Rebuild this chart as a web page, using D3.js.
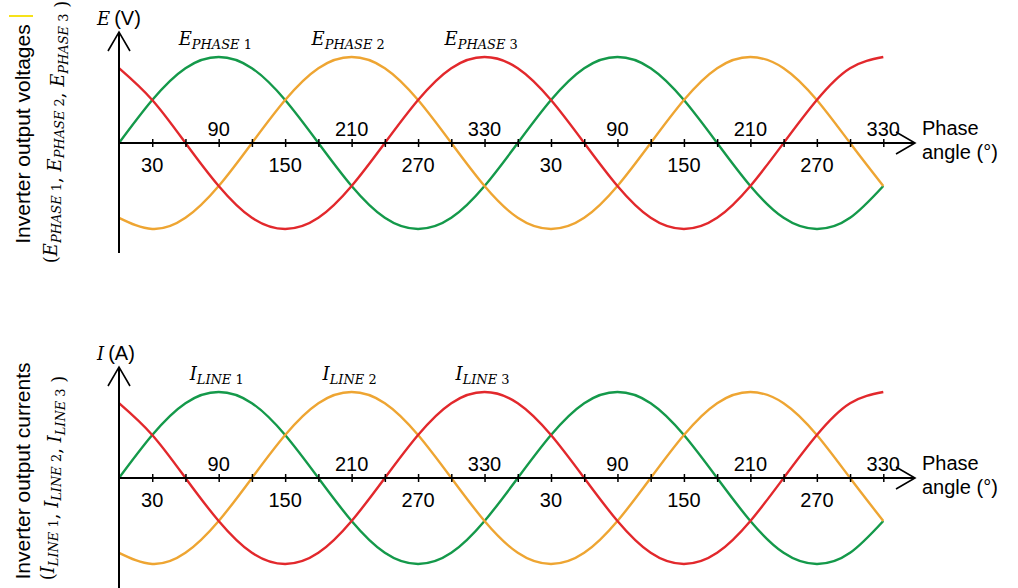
<!DOCTYPE html>
<html>
<head>
<meta charset="utf-8">
<script src="https://cdn.jsdelivr.net/npm/d3@7"></script>
<style>
body { margin: 0; background: #fff; }
svg { display: block; }
</style>
</head>
<body>
<div class="chart"></div>
<script>
// phase angle grid (degrees), read every 30°
const angles = [0, 30, 60, 90, 120, 150, 180, 210, 240, 270, 300, 330,
                360, 390, 420, 450, 480, 510, 540, 570, 600, 630, 660, 690];
const tickAngles = angles.slice(1);
const labelAngles = [30, 90, 150, 210, 270, 330, 390, 450, 510, 570, 630, 690];
const tickLabels = ["30", "90", "150", "210", "270", "330", "30", "90", "150", "210", "270", "330"];

// normalised amplitudes
const wave1 = [0, 0.5, 0.87, 1, 0.87, 0.5, 0, -0.5, -0.87, -1, -0.87, -0.5,
               0, 0.5, 0.87, 1, 0.87, 0.5, 0, -0.5, -0.87, -1, -0.87, -0.5];
const wave2 = [-0.87, -1, -0.87, -0.5, 0, 0.5, 0.87, 1, 0.87, 0.5, 0, -0.5,
               -0.87, -1, -0.87, -0.5, 0, 0.5, 0.87, 1, 0.87, 0.5, 0, -0.5];
const wave3 = [0.87, 0.5, 0, -0.5, -0.87, -1, -0.87, -0.5, 0, 0.5, 0.87, 1,
               0.87, 0.5, 0, -0.5, -0.87, -1, -0.87, -0.5, 0, 0.5, 0.87, 1];

const phaseNames = ["PHASE 1", "PHASE 2", "PHASE 3"];
const lineNames = ["LINE 1", "LINE 2", "LINE 3"];
const peakAngles = [90, 210, 330];

const width = 1018;
const height = 588;
const colors = ["#14994a", "#eea532", "#e2282c"];
const sans = "'Liberation Sans', Arial, sans-serif";
const serif = "'DejaVu Serif', 'Liberation Serif', serif";

const svg = d3.select(".chart")
    .append("svg")
    .attr("width", width)
    .attr("height", height);

const x = d3.scaleLinear().domain([0, 690]).range([119, 883.3]);

// little yellow mark in the corner of the original
svg.append("line")
    .attr("x1", 9).attr("x2", 33).attr("y1", 16).attr("y2", 16)
    .attr("stroke", "#f6e21a").attr("stroke-width", 2);

const panels = [
    {dy: 0, sym: "E", unit: "(V)", subs: phaseNames, values: [wave1, wave2, wave3],
     title: "Inverter output voltages", titleY: 134, subY: 132, subX: 57},
    {dy: 335, sym: "I", unit: "(A)", subs: lineNames, values: [wave1, wave2, wave3],
     title: "Inverter output currents", titleY: 136, subY: 143, subX: 54}
];

function mathTerm(t, sym, sub, size) {
    t.append("tspan").attr("font-style", "italic").attr("font-size", size).text(sym);
    t.append("tspan").attr("font-style", "italic").attr("font-size", size * 0.72)
        .attr("dy", size * 0.2).text(sub.split(" ")[0] + " ");
    t.append("tspan").attr("font-size", size * 0.72).text(sub.split(" ")[1]);
    t.append("tspan").attr("font-size", size).attr("dy", -size * 0.2).text("");
}

panels.forEach(p => {
    const g = svg.append("g").attr("transform", `translate(0,${p.dy})`);
    const y = d3.scaleLinear().domain([-1, 1]).range([229, 57]);
    const y0 = y(0);

    // curves
    const line = d3.line()
        .x((d, i) => x(angles[i]))
        .y(d => y(d))
        .curve(d3.curveNatural);

    g.selectAll("path.wave")
        .data(p.values)
        .join("path")
        .attr("class", "wave")
        .attr("d", line)
        .attr("fill", "none")
        .attr("stroke", (d, i) => colors[i])
        .attr("stroke-width", 2.4);

    // horizontal axis with ticks crossing it
    const axis = d3.axisBottom(x).tickValues(tickAngles).tickSize(8).tickFormat("");
    const ax = g.append("g").attr("transform", `translate(0,${y0})`).call(axis);
    ax.select(".domain").remove();
    ax.selectAll(".tick line").attr("y1", -4).attr("y2", 4)
        .attr("stroke", "#000").attr("stroke-width", 1.5);

    g.append("line")
        .attr("x1", x(0)).attr("x2", 915).attr("y1", y0).attr("y2", y0)
        .attr("stroke", "#000").attr("stroke-width", 2);
    g.append("polyline")
        .attr("points", `896,${y0 - 11} 915,${y0} 896,${y0 + 11}`)
        .attr("fill", "none").attr("stroke", "#000").attr("stroke-width", 1.6);

    // vertical axis
    g.append("line")
        .attr("x1", x(0)).attr("x2", x(0)).attr("y1", 32).attr("y2", 253)
        .attr("stroke", "#000").attr("stroke-width", 2);
    g.append("polyline")
        .attr("points", `${x(0) - 11},51 ${x(0)},32 ${x(0) + 11},51`)
        .attr("fill", "none").attr("stroke", "#000").attr("stroke-width", 1.6);

    // tick labels, alternating below / above
    g.selectAll("text.tl")
        .data(labelAngles)
        .join("text")
        .attr("class", "tl")
        .attr("x", d => x(d))
        .attr("y", (d, i) => i % 2 === 0 ? y0 + 29 : y0 - 7)
        .attr("text-anchor", "middle")
        .attr("font-family", sans)
        .attr("font-size", 20)
        .text((d, i) => tickLabels[i]);

    // axis title on the right
    const at = g.append("text").attr("font-family", sans).attr("font-size", 20);
    at.append("tspan").attr("x", 922).attr("y", y0 - 8).text("Phase");
    at.append("tspan").attr("x", 922).attr("y", y0 + 16).text("angle (°)");

    // unit label
    const ul = g.append("text").attr("x", 97).attr("y", 25);
    ul.append("tspan").attr("font-family", serif).attr("font-style", "italic")
        .attr("font-size", 18).text(p.sym);
    ul.append("tspan").attr("font-family", sans).attr("font-size", 20).attr("dx", 4).text(p.unit);

    // series labels over the peaks
    p.subs.forEach((s, i) => {
        const t = g.append("text")
            .attr("x", x(peakAngles[i]) - (p.sym === "E" ? 40 : 29))
            .attr("y", 45)
            .attr("font-family", serif);
        mathTerm(t, p.sym, s, 18);
    });

    // rotated left titles
    g.append("text")
        .attr("transform", `translate(30,${p.titleY}) rotate(-90)`)
        .attr("text-anchor", "middle")
        .attr("font-family", sans)
        .attr("font-size", 21)
        .text(p.title);

    const st = g.append("text")
        .attr("transform", `translate(${p.subX},${p.subY}) rotate(-90)`)
        .attr("text-anchor", "middle")
        .attr("font-family", serif);
    st.append("tspan").attr("font-size", 18).text("(");
    p.subs.forEach((s, i) => {
        mathTerm(st, p.sym, s, 18);
        st.append("tspan").attr("font-size", 18).text(i < 2 ? ", " : " )");
    });
});
</script>
</body>
</html>
